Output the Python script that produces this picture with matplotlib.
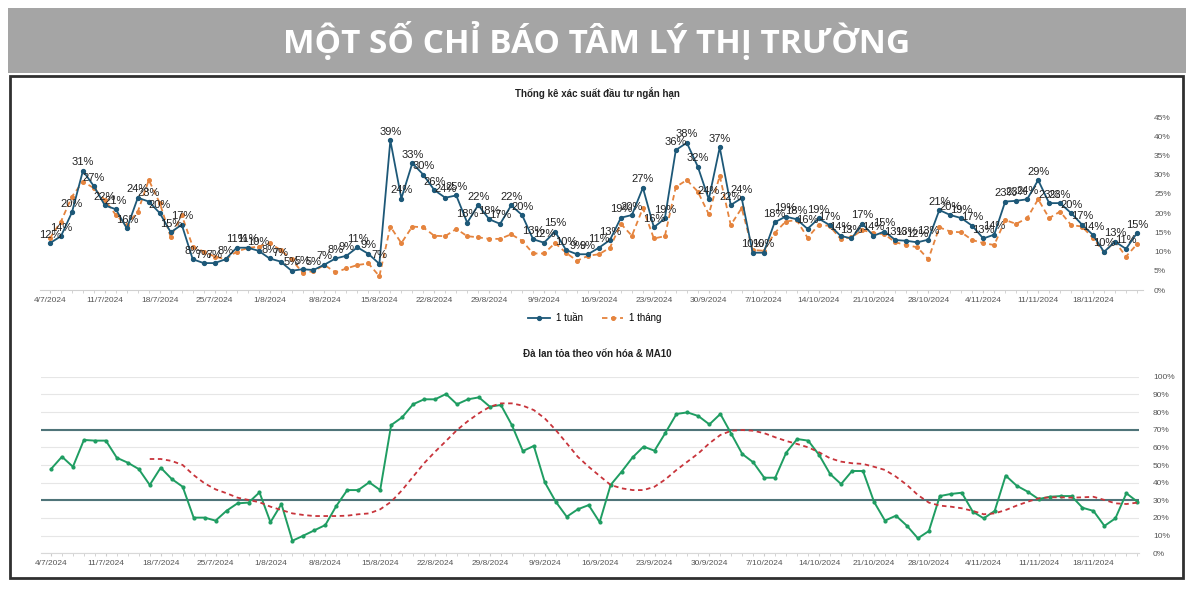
import matplotlib
matplotlib.use("Agg")
import matplotlib.pyplot as plt
from matplotlib.patches import Rectangle
from matplotlib.lines import Line2D
import numpy as np
import pandas as pd

plt.rcParams['font.family'] = ['Liberation Sans', 'DejaVu Sans']

# ---------------- data ----------------
dates = [d for d in pd.bdate_range("2024-07-04", "2024-11-22")
         if d.strftime("%Y-%m-%d") not in ("2024-09-02", "2024-09-03")]
date_labels = [f"{d.day}/{d.month}/{d.year}" for d in dates]

week1 = [12.2, 14, 20.2, 31, 27, 22, 21, 16, 24, 23,
         20, 15, 17, 8, 7, 7, 8, 11, 11, 10.2,
         8.2, 7.4, 5, 5.4, 5.2, 6.6, 8.2, 8.9, 11.1, 9.4,
         6.8, 38.9, 23.8, 33, 30, 26, 24, 24.6, 17.5, 22.1,
         18.4, 17.2, 22, 19.5, 13.2, 12.3, 15.2, 10.4, 9.3, 9.3,
         11, 13, 18.8, 19.5, 26.6, 16.3, 18.6, 36.4, 38.3, 32.1,
         23.6, 37.1, 22.1, 23.9, 9.7, 9.7, 17.6, 19.1, 18.4, 15.9,
         18.6, 16.9, 14.1, 13.4, 17.2, 14.1, 15.2, 13, 12.8, 12.4,
         13.1, 20.8, 19.5, 18.7, 16.7, 13.4, 14.4, 23, 23.2, 23.6,
         28.6, 22.6, 22.6, 20, 17, 14.3, 9.9, 12.6, 10.7, 14.8]

month1 = [13.5, 17.8, 24.3, 28.2, 26.5, 23.4, 19.5, 16.9, 20.4, 28.6,
          22.6, 13.7, 19.5, 11.3, 10, 8.7, 8.0, 10, 10.9, 11.3,
          12.2, 10.4, 8.0, 4.5, 4.9, 6.5, 4.6, 5.6, 6.5, 6.9,
          3.6, 16.5, 12.2, 16.5, 16.3, 14.1, 14.0, 15.9, 14.0, 13.7,
          13.3, 13.3, 14.5, 12.8, 9.5, 9.5, 12.2, 9.7, 7.6, 8.9,
          9.3, 11, 17.2, 14.1, 21.3, 13.4, 14.0, 26.8, 28.6, 25.6,
          19.7, 29.7, 16.9, 21.3, 10.4, 10.2, 14.8, 17.8, 18.2, 13.6,
          16.9, 16.7, 13.3, 13.7, 15.6, 14.8, 14.5, 12.4, 11.7, 11.1,
          8.0, 16.3, 15.2, 15.0, 13.0, 12.2, 11.7, 18.2, 17.2, 18.7,
          23.6, 18.7, 20.4, 16.9, 16.5, 13.5, 9.8, 12.6, 8.7, 11.9]

breadth = [47.7, 54.7, 49.0, 64.2, 63.8, 63.8, 54.1, 51.3, 47.7, 38.7,
           48.5, 42.1, 37.7, 20.2, 20.2, 18.5, 24.1, 28.3, 28.7, 34.5,
           17.6, 27.9, 7.1, 10.0, 13.0, 16.0, 26.8, 35.8, 35.8, 40.2,
           35.8, 72.6, 77.0, 84.4, 87.2, 87.2, 90.2, 84.4, 87.2, 88.3,
           83.0, 84.0, 72.6, 57.9, 60.8, 40.2, 29.2, 20.7, 24.9, 27.3,
           17.6, 38.7, 46.2, 54.3, 60.4, 58.1, 68.3, 78.9, 79.8, 77.7,
           73.0, 78.9, 67.6, 56.2, 51.5, 42.8, 42.8, 57.0, 64.7, 63.8,
           55.7, 44.9, 39.2, 46.6, 46.6, 29.2, 18.5, 21.3, 15.6, 8.5,
           12.6, 32.4, 33.6, 34.3, 23.6, 19.8, 24.0, 44.0, 38.3, 34.9,
           30.7, 32.0, 32.4, 32.4, 25.8, 24.0, 15.5, 19.8, 34.0, 29.2]

ma10 = [None] * 9 + [
    53.4, 53.4, 52.3, 50.0, 44.3, 39.6, 36.2, 34.0, 31.5, 30.2,
    28.9, 26.4, 24.5, 22.6, 21.7, 21.1, 21.1, 21.1, 21.3, 22.1,
    22.6, 24.9, 29.2, 35.8, 43.4, 51.0, 57.5, 63.6, 69.8, 74.9,
    79.3, 83.0, 84.9, 84.9, 83.6, 81.1, 76.4, 69.8, 62.3, 54.7,
    49.0, 43.8, 38.7, 36.8, 35.8, 35.8, 37.7, 41.9, 47.2, 51.9,
    56.6, 62.3, 67.0, 69.4, 69.8, 69.4, 68.0, 65.7, 63.6, 61.9,
    60.0, 57.2, 53.8, 51.9, 51.0, 50.6, 49.0, 47.2, 43.4, 38.7,
    33.0, 28.7, 27.0, 26.4, 25.5, 24.0, 22.1, 22.6, 24.5, 27.0,
    29.2, 31.1, 31.7, 31.7, 31.5, 31.7, 32.0, 30.2, 28.3, 27.9, 28.7]

threshold_levels = [70, 30]

title_main = "MỘT SỐ CHỈ BÁO TÂM LÝ THỊ TRƯỜNG"
title_top = "Thống kê xác suất đầu tư ngắn hạn"
title_bottom = "Đà lan tỏa theo vốn hóa & MA10"
legend_week = "1 tuần"
legend_month = "1 tháng"

# ---------------- figure ----------------
W, H = 1200, 593
fig = plt.figure(figsize=(W / 100, H / 100), dpi=100)
fig.patch.set_facecolor("white")


def fx(px):
    return px / W


def fy(py):
    return 1 - py / H


# banner
fig.patches.append(Rectangle((fx(8), fy(73)), fx(1186) - fx(8), fy(8) - fy(73),
                             transform=fig.transFigure, facecolor="#a5a5a5",
                             edgecolor="none", zorder=0))
fig.text(fx(597), fy(42), title_main, ha="center", va="center", color="white",
         fontsize=24, fontweight="bold", family=["Open Sans", "DejaVu Sans"])
# border box
fig.patches.append(Rectangle((fx(10), fy(578)), fx(1183) - fx(10), fy(76) - fy(578),
                             transform=fig.transFigure, facecolor="none",
                             edgecolor="#303030", linewidth=2, zorder=0))

x = np.arange(len(dates))
blue = "#1d5878"
orange = "#e5843e"
green = "#1f9d62"
red = "#c8343b"
slate = "#4f7479"
tick_color = "#555555"

# ---------------- top chart ----------------
ax1 = fig.add_axes([fx(40), fy(290), fx(1143) - fx(40), fy(117) - fy(290)])
ax1.plot(x, month1, color=orange, lw=1.3, ls=(0, (3, 2)), marker="o", ms=2.6,
         label=legend_month, zorder=2)
ax1.plot(x, week1, color=blue, lw=1.3, marker="o", ms=2.8, label=legend_week, zorder=3)
for i, v in enumerate(week1):
    ax1.annotate(f"{int(v + 0.5)}%", (i, v), xytext=(0, 2.5), textcoords="offset points",
                 ha="center", va="bottom", fontsize=8, color="#222222", zorder=4)
ax1.set_xlim(-0.91, 99.55)
ax1.set_ylim(0, 45)
ax1.yaxis.tick_right()
ax1.set_yticks(range(0, 46, 5))
ax1.set_yticklabels([f"{v}%" for v in range(0, 46, 5)], fontsize=6, color=tick_color)
ax1.tick_params(axis="y", length=0, pad=8)
ax1.set_xticks(x[::5])
ax1.set_xticklabels(date_labels[::5], fontsize=6, color=tick_color)
ax1.set_xticks(x, minor=True)
ax1.tick_params(axis="x", which="both", length=2, color="#cccccc", pad=3)
for s in ["top", "right", "left"]:
    ax1.spines[s].set_visible(False)
ax1.spines["bottom"].set_color("#d0d0d0")
ax1.set_facecolor("none")
fig.text(fx(597), fy(93), title_top, ha="center", va="center", fontsize=7,
         fontweight="bold", color="#222222")

handles = [Line2D([], [], color=blue, lw=1.3, marker="o", ms=2.8),
           Line2D([], [], color=orange, lw=1.3, ls=(0, (3, 2)), marker="o", ms=2.6)]
fig.legend(handles, [legend_week, legend_month], loc="center",
           bbox_to_anchor=(fx(595), fy(318)), ncol=2, frameon=False, fontsize=7,
           handlelength=2.2, columnspacing=2.0, handletextpad=0.6)

# ---------------- bottom chart ----------------
ax2 = fig.add_axes([fx(41), fy(553.3), fx(1139) - fx(41), fy(376.7) - fy(553.3)])
ax2.set_xlim(-0.91, 99.15)
ax2.set_ylim(0, 100)
ax2.yaxis.tick_right()
ax2.set_yticks(range(0, 101, 10))
ax2.set_yticklabels([f"{v}%" for v in range(0, 101, 10)], fontsize=6, color=tick_color)
ax2.tick_params(axis="y", length=0, pad=10)
ax2.grid(axis="y", color="#e6e6e6", lw=0.8)
ax2.set_axisbelow(True)
for lvl in threshold_levels:
    ax2.axhline(lvl, color=slate, lw=1.5, zorder=1)
ax2.plot(x, breadth, color=green, lw=1.4, marker="o", ms=2.0, zorder=3)
ax2.plot(x, [np.nan if v is None else v for v in ma10], color=red, lw=1.3,
         ls=(0, (2.5, 2)), zorder=4)
ax2.set_xticks(x[::5])
ax2.set_xticklabels(date_labels[::5], fontsize=6, color=tick_color)
ax2.set_xticks(x, minor=True)
ax2.tick_params(axis="x", which="both", length=2, color="#cccccc", pad=3)
for s in ["top", "right", "left"]:
    ax2.spines[s].set_visible(False)
ax2.spines["bottom"].set_color("#d8d8d8")
ax2.set_facecolor("none")
fig.text(fx(597), fy(354), title_bottom, ha="center", va="center", fontsize=7,
         fontweight="bold", color="#222222")

fig.savefig("out.png", dpi=100)
